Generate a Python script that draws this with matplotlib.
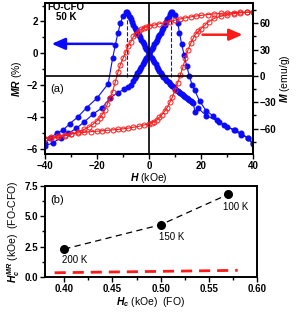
import numpy as np
import matplotlib
matplotlib.use('Agg')
import matplotlib.pyplot as plt
from matplotlib.ticker import MultipleLocator, FormatStrFormatter

plt.rcParams['font.family'] = 'Liberation Sans'
plt.rcParams['font.weight'] = 'bold'
plt.rcParams['mathtext.fontset'] = 'custom'
plt.rcParams['mathtext.it'] = 'Liberation Sans:bold:italic'
plt.rcParams['mathtext.rm'] = 'Liberation Sans:bold'
plt.rcParams['mathtext.bf'] = 'Liberation Sans:bold'

# (a) MR, sweep up (peak at +Hc)
h_up = [-40, -37, -34, -31, -28, -25, -21.5, -18, -15, -12, -9.5, -8, -7, -6, -5.5, -5, -4.5, -4,
        -3.5, -3, -2.5, -2, -1.5, -1, -0.5, 0, 0.5, 1, 1.5, 2, 2.5, 3, 3.5, 4, 4.5, 5, 5.5, 6, 6.5,
        7, 7.5, 8, 8.5, 9, 10, 11, 11.7, 12.5, 13.5, 14.5, 15.5, 16.5, 17.5, 19.5,
        22, 24.5, 27, 30, 33, 35.5, 38, 40]
mr_up = [-5.8, -5.6, -5.3, -5.0, -4.7, -4.3, -3.8, -3.4, -2.8, -2.45, -2.25, -2.1, -1.95, -1.7,
         -1.55, -1.4, -1.25, -1.1, -0.96, -0.82, -0.68, -0.55, -0.42, -0.28, -0.14, 0.0, 0.14,
         0.28, 0.42, 0.57, 0.71, 0.86, 1.0, 1.15, 1.3, 1.45, 1.62, 1.8, 1.97, 2.15, 2.3, 2.45,
         2.6, 2.6, 2.4, 1.9, 1.3, 0.6, -0.1, -0.8, -1.4, -1.95, -2.3, -3.0, -3.6, -3.9, -4.3,
         -4.6, -4.8, -5.0, -5.3, -5.6]

# (a) MR, sweep down (peak at -Hc)
h_dn = [40, 38, 35.5, 32.5, 29, 26, 22, 19, 17.7, 17, 16.5, 16, 15.5, 15, 14.5, 14, 13.5, 13, 12.5,
        12, 11.5, 11, 10.5, 10, 9.5, 9, 8.5, 8, 7.5, 7, 6.5, 6, 5.5, 5, 4.5, 4, 3.5, 3, 2.5, 2,
        1.5, 1, 0.5, 0, -0.5, -1, -1.5, -2, -2.5, -3, -3.5, -4, -4.5, -5, -5.5, -6, -6.5, -7,
        -7.5, -8, -8.5, -9, -10, -11, -12, -13, -14, -15.7,
        -20, -24, -27.5, -30.5, -33, -35.5, -38, -40]
mr_dn = [-5.7, -5.3, -5.1, -4.8, -4.5, -4.2, -3.9, -3.45, -3.7, -3.1, -3.05, -3.0, -2.92, -2.85,
         -2.78, -2.7, -2.65, -2.6, -2.55, -2.5, -2.42, -2.35, -2.28, -2.2, -2.12, -2.05, -1.98,
         -1.9, -1.82, -1.75, -1.65, -1.55, -1.45, -1.35, -1.22, -1.1, -0.96, -0.82, -0.68, -0.55,
         -0.42, -0.28, -0.14, 0.0, 0.14, 0.28, 0.42, 0.57, 0.71, 0.86, 1.0, 1.15, 1.3, 1.45,
         1.62, 1.8, 1.97, 2.15, 2.3, 2.45, 2.6, 2.6, 2.35, 1.9, 1.25, 0.5, -0.3, -1.9,
         -2.8, -3.4, -4.0, -4.4, -4.8, -5.0, -5.3, -5.6]

# (a) M loop
h_m_dn = [40, 37.5, 35, 32.5, 30, 27.5, 25, 22.5, 20, 18, 16, 14, 12, 10, 8, 6, 4, 2, 0, -1, -2, -3,
          -4, -5, -6, -7, -8, -9, -10, -11, -12, -13, -14, -15, -16, -17, -18, -19, -20, -21.5,
          -23, -25, -27.5, -30, -32.5, -35, -37.5, -40]
m_dn = [73, 72.8, 72.5, 72.2, 71.8, 71.3, 70.7, 70, 69, 68.3, 67.3, 66.2, 65, 63.6, 62, 60.5, 59.5,
        58, 57, 56, 55, 53, 51, 48, 45, 39, 34, 27, 20, 13, 4, -7, -18, -25, -32, -39, -44, -48,
        -51, -55, -58, -61, -64, -66.5, -68.5, -70, -71, -71.5]
h_m_up = [-40, -37.5, -35, -32.5, -30, -27.5, -25, -22.5, -20, -18, -16, -14, -12, -10, -8, -6, -4,
          -2, 0, 1, 2, 3, 4, 5, 6, 7, 8, 9, 10, 11, 12, 13, 14, 15, 16, 17, 18, 19, 20, 21.5, 23,
          25, 27.5, 30, 32.5, 35, 37.5, 40]
m_up = [-71.5, -70, -68.5, -67, -66, -65, -64.3, -63.6, -63, -62.5, -62, -61.5, -61, -60.3, -59.5,
        -58.5, -57.5, -56, -54.5, -53.5, -52, -50, -47, -44, -40, -36, -30, -24, -16, -8, 1, 10, 20,
        30, 37, 43, 48, 51, 54, 58, 62, 65.5, 68, 70, 71, 72, 72.5, 73]

hc_mr = 8.5  # dashed markers of MR peak

# (b)
hc_fo = [0.40, 0.50, 0.57]
hc_mr_cfo = [2.3, 4.3, 6.8]
temps = ['200 K', '150 K', '100 K']
red_x = [0.39, 0.58]
red_y = [0.35, 0.55]

blue = '#0a0aff'
red = '#ff1a1a'

fig = plt.figure(figsize=(2.96, 3.13), dpi=100)

# ---- panel (a)
ax1 = fig.add_axes([0.152, 0.508, 0.703, 0.482])
ax2 = ax1.twinx()

ax1.plot(h_up, mr_up, '-o', color=blue, lw=0.8, ms=3.3, mec=blue, mfc=blue)
ax1.plot(h_dn, mr_dn, '-o', color=blue, lw=0.8, ms=3.3, mec=blue, mfc=blue)
ax1.vlines([-hc_mr, hc_mr], -1.45, 2.6, colors=blue, linestyles='--', lw=0.8)
ax1.axvline(0, color='k', lw=1.2)
ax1.set_xlim(-40, 40)
ax1.set_ylim(-6.3, 3.15)

ax2.plot(h_m_dn, m_dn, '-o', color=red, lw=0.8, ms=3.6, mfc='none', mec=red, mew=0.7)
ax2.plot(h_m_up, m_up, '-o', color=red, lw=0.8, ms=3.6, mfc='none', mec=red, mew=0.7)
ax2.axhline(0, color='k', lw=1.2)
ax2.set_ylim(-89, 83)

ax1.annotate('', xy=(-38.5, 0.6), xytext=(-13, 0.6),
             arrowprops=dict(arrowstyle='-|>,head_length=0.8,head_width=0.35', color=blue, lw=1.8))
ax2.annotate('', xy=(37, 47), xytext=(19.5, 47),
             arrowprops=dict(arrowstyle='-|>,head_length=0.8,head_width=0.35', color=red, lw=1.8))

ax1.text(0.012, 0.975, 'FO-CFO', transform=ax1.transAxes, fontsize=7, va='center', ha='left')
ax1.text(0.10, 0.91, '50 K', transform=ax1.transAxes, fontsize=7, va='center', ha='center')
ax1.text(0.025, 0.43, '(a)', transform=ax1.transAxes, fontsize=8, va='center', ha='left',
         fontweight='normal')

ax1.xaxis.set_major_locator(MultipleLocator(20))
ax1.xaxis.set_minor_locator(MultipleLocator(10))
ax1.yaxis.set_major_locator(MultipleLocator(2))
ax1.yaxis.set_minor_locator(MultipleLocator(1))
ax2.yaxis.set_major_locator(MultipleLocator(30))
ax2.yaxis.set_minor_locator(MultipleLocator(15))

ax1.set_xlabel('$H$ (kOe)', fontsize=7.5, labelpad=0)
ax1.set_ylabel('$MR$ (%)', fontsize=7.5, labelpad=2)
ax2.set_ylabel('$M$ (emu/g)', fontsize=7.5, labelpad=1)

# ---- panel (b)
ax3 = fig.add_axes([0.152, 0.115, 0.716, 0.291])
ax3.plot(hc_fo, hc_mr_cfo, 'o', color='k', ms=5.5)
ax3.plot(hc_fo, hc_mr_cfo, '--', color='k', lw=0.9, dashes=(5, 3.5))
ax3.plot(red_x, red_y, '--', color=red, lw=2, dashes=(4, 2.5))
ax3.text(0.398, 1.4, temps[0], fontsize=7, fontweight='normal', va='center', ha='left')
ax3.text(0.498, 3.3, temps[1], fontsize=7, fontweight='normal', va='center', ha='left')
ax3.text(0.565, 5.8, temps[2], fontsize=7, fontweight='normal', va='center', ha='left')
ax3.text(0.025, 0.85, '(b)', transform=ax3.transAxes, fontsize=8, va='center', ha='left',
         fontweight='normal')
ax3.set_xlim(0.38, 0.60)
ax3.set_ylim(0, 7.5)
ax3.xaxis.set_major_locator(MultipleLocator(0.05))
ax3.xaxis.set_minor_locator(MultipleLocator(0.025))
ax3.yaxis.set_major_locator(MultipleLocator(2.5))
ax3.yaxis.set_minor_locator(MultipleLocator(1.25))
ax3.xaxis.set_major_formatter(FormatStrFormatter('%.2f'))
ax3.yaxis.set_major_formatter(FormatStrFormatter('%.1f'))
ax3.set_xlabel('$H_c$ (kOe)  (FO)', fontsize=7.5, labelpad=1)
ax3.set_ylabel('$H_c^{MR}$ (kOe)  (FO-CFO)', fontsize=7.5, labelpad=2)

for ax in (ax1, ax2, ax3):
    for s in ax.spines.values():
        s.set_linewidth(1.4)
    ax.tick_params(which='major', length=3.5, width=1, labelsize=7, pad=1.5)
    ax.tick_params(which='minor', length=2, width=1)

fig.savefig('out.png', dpi=100)
